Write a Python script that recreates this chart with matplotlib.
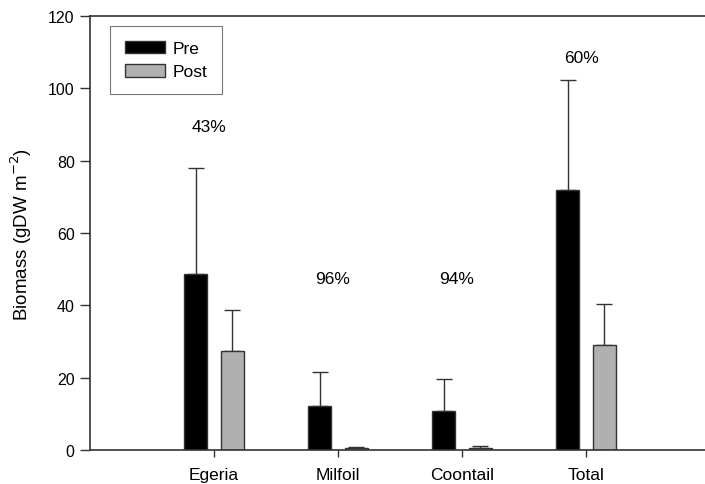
import numpy as np
import matplotlib
matplotlib.use("Agg")
import matplotlib.pyplot as plt

plt.rcParams['font.family'] = ['Liberation Sans', 'DejaVu Sans']

categories = ['Egeria', 'Milfoil', 'Coontail', 'Total']
pre = [48.7, 12.2, 10.9, 72.0]
pre_err = [29.3, 9.4, 8.8, 30.2]
post = [27.5, 0.5, 0.6, 28.9]
post_err = [11.1, 0.4, 0.5, 11.6]
pct_labels = ['43%', '96%', '94%', '60%']
pct_y = [89.5, 47.5, 47.5, 108.5]

fig = plt.figure(figsize=(7.05, 4.85), dpi=100)
ax = fig.add_axes([90 / 705, 1 - 451 / 485, 620 / 705, 434 / 485])

x = np.arange(len(categories))
w = 0.185
off = 0.149

ax.bar(x - off, pre, w, color='black', edgecolor='#333333', linewidth=1, label='Pre', zorder=2)
ax.bar(x + off, post, w, color='#b0b0b0', edgecolor='#333333', linewidth=1, label='Post', zorder=2)

# only the upper half of each error bar
ax.errorbar(x - off, pre, yerr=[np.zeros(4), pre_err], fmt='none', ecolor='#333333',
            elinewidth=1, capsize=5.5, capthick=1, zorder=1)
ax.errorbar(x + off, post, yerr=[np.zeros(4), post_err], fmt='none', ecolor='#333333',
            elinewidth=1, capsize=5.5, capthick=1, zorder=1)

for xi, lab, yi in zip(x, pct_labels, pct_y):
    ax.text(xi - 0.04, yi, lab, ha='center', va='center', fontsize=12.5)

ax.set_xlim(-1, 4)
ax.set_ylim(0, 120)
ax.set_yticks(np.arange(0, 121, 20))
ax.set_xticks(x)
ax.set_xticklabels(categories)
ax.tick_params(axis='y', direction='out', length=7, width=1, labelsize=11.5, pad=4, color='#333333')
ax.tick_params(axis='x', direction='out', length=5, width=1, labelsize=12.5, pad=7, color='#333333')
for s in ax.spines.values():
    s.set_color('#333333')
    s.set_linewidth(1.2)
ax.spines['right'].set_visible(False)

ax.set_ylabel('Biomass (gDW m$^{-2}$)', fontsize=13.5, labelpad=10)

leg = ax.legend(loc='upper left', bbox_to_anchor=(20 / 620, 1 - 10 / 434), fontsize=12.5,
                frameon=True, fancybox=False, handlelength=2.3, handleheight=0.75,
                borderpad=0.85, labelspacing=0.45, handletextpad=0.45, borderaxespad=0)
leg.get_frame().set_edgecolor('#555555')
leg.get_frame().set_linewidth(0.8)

fig.savefig('out.png', dpi=100)
